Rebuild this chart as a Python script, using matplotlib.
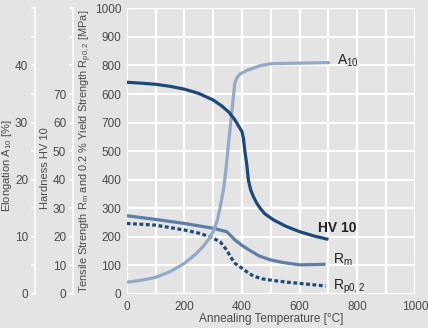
import matplotlib
matplotlib.use("Agg")
import matplotlib.pyplot as plt

plt.rcParams['font.family'] = ['Liberation Sans', 'DejaVu Sans']
plt.rcParams['mathtext.fontset'] = 'custom'
plt.rcParams['mathtext.rm'] = 'Liberation Sans'
plt.rcParams['mathtext.it'] = 'Liberation Sans:italic'
plt.rcParams['mathtext.bf'] = 'Liberation Sans:bold'

# Hardness HV 10
t_hv = [0, 50, 100, 150, 200, 250, 300, 330, 355, 375, 390, 400, 405, 410, 417, 422,
        430, 440, 450, 463, 480, 510, 550, 600, 650, 700]
hv = [74.1, 73.8, 73.4, 72.7, 71.7, 70.2, 67.9, 65.8, 63.6, 61.0, 58.5, 56.8, 54.5, 50.0,
      45.0, 40.0, 36.5, 34.0, 32.0, 30.0, 28.0, 25.9, 23.8, 21.8, 20.3, 19.1]

# Elongation A10 [%]
t_a10 = [0, 50, 100, 150, 200, 240, 265, 285, 300, 315, 327, 337, 344, 358, 375,
         383, 393, 416, 462, 500, 600, 705]
a10 = [2.05, 2.4, 2.9, 3.9, 5.35, 7.0, 8.3, 9.6, 10.9, 13.0, 15.9, 18.6, 21.7, 28.6, 36.9,
       37.9, 38.5, 39.1, 39.95, 40.3, 40.4, 40.5]

# Tensile strength Rm [MPa]
t_rm = [0, 100, 200, 300, 347, 375, 400, 428, 460, 500, 544, 600, 650, 690]
rm = [274, 261, 247, 230, 218, 190, 170, 152, 133, 119, 110, 102, 103, 104]

# Yield strength Rp0,2 [MPa]
t_rp = [0, 100, 200, 250, 290, 324, 347, 360, 376, 400, 416, 439, 470, 510, 560, 600, 650, 690]
rp = [247, 241, 224, 213, 200, 183, 154, 130, 107, 90, 78, 63, 53, 47, 41, 37, 32, 28]

x_ticks = [0, 200, 400, 600, 800, 1000]
mpa_ticks = [0, 100, 200, 300, 400, 500, 600, 700, 800, 900, 1000]
mpa_labels = ['0', '100', '200', '300', '400', '500', '700', '600', '800', '900', '1000']
el_ticks = [0, 5, 10, 15, 20, 25, 30, 35, 40, 45, 50]
el_labels = ['0', '', '10', '', '20', '', '30', '', '40', '', '']
hv_ticks = [0, 10, 20, 30, 40, 50, 60, 70, 80, 90, 100]
hv_labels = ['0', '10', '20', '30', '40', '50', '60', '70', '', '', '']

bg = '#e4e4e4'
txt = '#4a4a4a'

fig = plt.figure(figsize=(4.28, 3.28), dpi=100, facecolor=bg)
ax = fig.add_axes([0.296, 0.1037, 0.6735, 0.871])
ax.set_facecolor(bg)
ax.set_xlim(0, 1000)
ax.set_ylim(0, 1000)
ax.set_xticks(range(0, 1001, 100))
ax.set_xticklabels([str(v) if v in x_ticks else '' for v in range(0, 1001, 100)])
ax.set_yticks(mpa_ticks)
ax.set_yticklabels(mpa_labels)
ax.grid(True, color='white', lw=1.6)
ax.set_axisbelow(True)
for s in ax.spines.values():
    s.set_visible(False)
ax.tick_params(length=0, labelsize=8.5, colors=txt, pad=4)
ax.tick_params(axis='x', pad=5)
ax.set_xlabel('Annealing Temperature [°C]', fontsize=8.5, color=txt, labelpad=0)
ax.set_ylabel('Tensile Strength R$_\\mathrm{m}$ and 0.2 % Yield Strength R$_\\mathrm{p0,2}$ [MPa]',
              fontsize=7.9, color=txt)
ax.yaxis.set_label_coords(-0.112, 0.5)


def side_axis(offset, lim, ticks, labels, label, lab_x, lab_y):
    a = ax.twinx()
    a.set_ylim(*lim)
    a.yaxis.set_ticks_position('left')
    a.yaxis.set_label_position('left')
    a.spines['left'].set_position(('axes', offset))
    a.spines['left'].set_color('white')
    a.spines['left'].set_linewidth(1.2)
    a.spines['left'].set_bounds(lim[0], lim[1])
    for k in ['right', 'top', 'bottom']:
        a.spines[k].set_visible(False)
    a.set_yticks(ticks)
    a.set_yticklabels(labels)
    a.tick_params(axis='y', length=3, width=1.2, color='white', labelcolor=txt,
                  labelsize=8.5, pad=2)
    a.set_ylabel(label, fontsize=8, color=txt)
    a.yaxis.set_label_coords(lab_x, lab_y)
    return a


ax_el = side_axis(-0.318, (0, 50), el_ticks, el_labels, 'Elongation A$_{10}$ [%]', -0.39, 0.45)
ax_hv = side_axis(-0.186, (0, 100), hv_ticks, hv_labels, 'Hardness HV 10', -0.266, 0.44)

ax.plot(t_rm, rm, color='#5d7ea6', lw=2.3, solid_capstyle='butt')
ax.plot(t_rp, rp, color='#1f4b7b', lw=2.3, dashes=(1.2, 0.8))
ax_hv.plot(t_hv, hv, color='#1b4a78', lw=2.3, solid_capstyle='butt')
ax_el.plot(t_a10, a10, color='#94a9c7', lw=2.3, solid_capstyle='butt')

lab = dict(fontsize=10, color='#222222', va='baseline', ha='left')
ax.text(728, 802, 'A$_{10}$', **lab)
ax.text(665, 216, 'HV 10', fontweight='bold', **lab)
ax.text(717, 107, 'R$_\\mathrm{m}$', **lab)
ax.text(715, 16, 'R$_\\mathrm{p0,2}$', **lab)

fig.savefig('out.png', dpi=100, facecolor=bg)
